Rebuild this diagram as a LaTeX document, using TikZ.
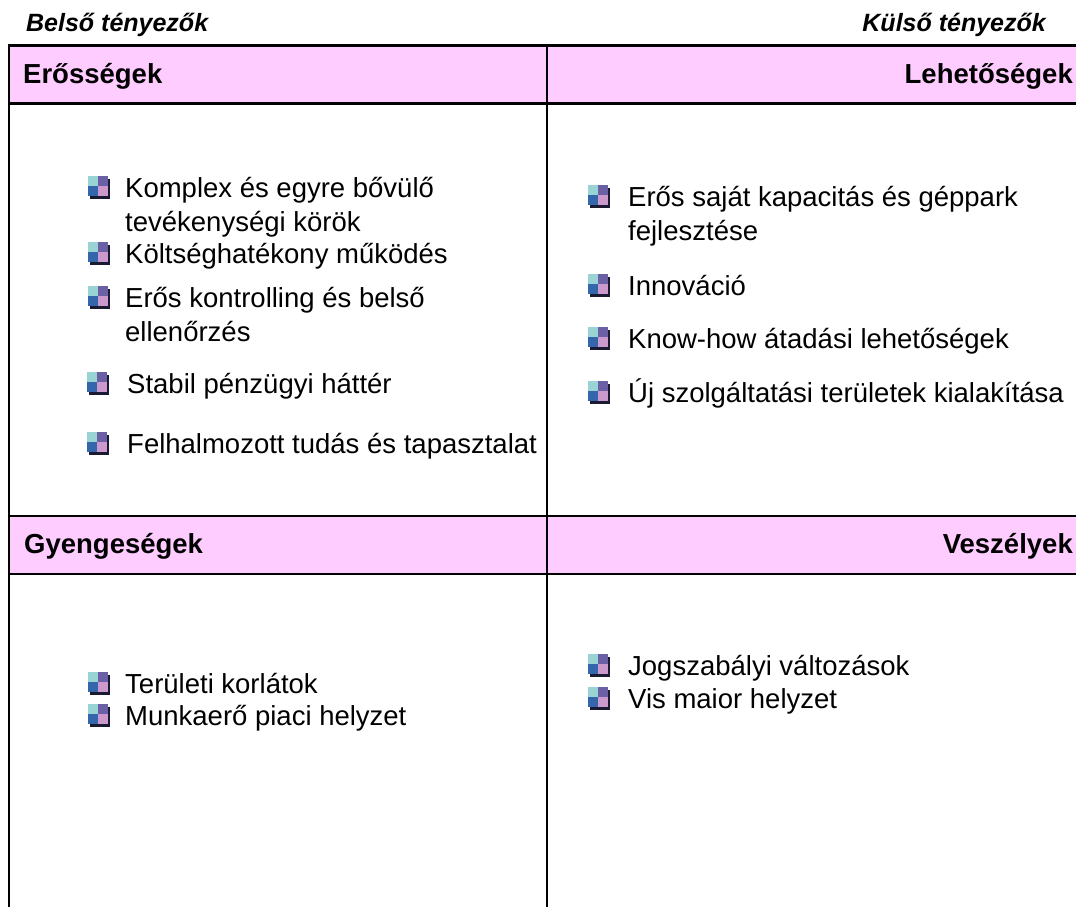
\documentclass[tikz,border=0pt]{standalone}
\usepackage{fontspec}
\setmainfont{Liberation Sans}
\definecolor{hdrpink}{HTML}{FFCCFF}
\definecolor{bteal}{HTML}{99D3D3}
\definecolor{bpurple}{HTML}{6B5FA6}
\definecolor{bblue}{HTML}{3366AA}
\definecolor{blilac}{HTML}{CC99CC}
\definecolor{bshadow}{HTML}{1A1A33}
\newcommand{\sqbul}[2]{%
  \fill[bshadow] (#1+1.5,#2-18.5) rectangle (#1+21.5,#2+1.5);
  \fill[bteal] (#1,#2-21) rectangle (#1+10,#2-11);
  \fill[bpurple] (#1+10,#2-21) rectangle (#1+20,#2-11);
  \fill[bblue] (#1,#2-11) rectangle (#1+10,#2-1);
  \fill[blilac] (#1+10,#2-11) rectangle (#1+20,#2-1);
}
\begin{document}
\begin{tikzpicture}[x=1pt,y=-1pt,
  frame/.style={line width=2.5pt,black},
  toplabel/.style={inner sep=0pt,font=\fontsize{25}{29}\selectfont\bfseries\itshape},
  header/.style={inner sep=0pt,font=\fontsize{27.5}{32}\selectfont\bfseries},
  item/.style={inner sep=0pt,anchor=base west,font=\fontsize{27.5}{34}\selectfont}]
\useasboundingbox (0,0) rectangle (1076,907);
% header fills
\fill[hdrpink] (9,45.5) rectangle (1076,103.7);
\fill[hdrpink] (9,516) rectangle (1076,574);
% frame lines
\coordinate (tl) at (9,45.5);
\coordinate (tr) at (1076,45.5);
\coordinate (h1l) at (9,103.7);
\coordinate (h1r) at (1076,103.7);
\coordinate (h2l) at (9,516);
\coordinate (h2r) at (1076,516);
\coordinate (h3l) at (9,574);
\coordinate (h3r) at (1076,574);
\coordinate (bl) at (9,907);
\coordinate (mt) at (547,45.5);
\coordinate (mb) at (547,907);
\draw[frame] (7.75,45.5) -- (tr);
\draw[frame] (h1l) -- (h1r);
\draw[frame] (h2l) -- (h2r);
\draw[frame] (h3l) -- (h3r);
\draw[frame] (tl) -- (bl);
\draw[frame] (mt) -- (mb);
% top labels
\node[toplabel,anchor=base west] (belso) at (26,32) {Belső tényezők};
\node[toplabel,anchor=base east] (kulso) at (1046,32) {Külső tényezők};
% headers
\node[header,anchor=base west] (eross) at (23,83) {Erősségek};
\node[header,anchor=base east] (lehet) at (1073,83) {Lehetőségek};
\node[header,anchor=base west] (gyenge) at (24,553) {Gyengeségek};
\node[header,anchor=base east] (vesz) at (1073,553) {Veszélyek};
% strengths
\sqbul{88}{197}
\node[item] (s1a) at (125,197) {Komplex és egyre bővülő};
\node[item] (s1b) at (125,231) {tevékenységi körök};
\sqbul{88}{263}
\node[item] (s2) at (125,263) {Költséghatékony működés};
\sqbul{88}{307}
\node[item] (s3a) at (125,307) {Erős kontrolling és belső};
\node[item] (s3b) at (125,341) {ellenőrzés};
\sqbul{87}{393}
\node[item] (s4) at (127,393) {Stabil pénzügyi háttér};
\sqbul{87}{453}
\node[item] (s5) at (127,453) {Felhalmozott tudás és tapasztalat};
% opportunities
\sqbul{588}{206}
\node[item] (o1a) at (628,206) {Erős saját kapacitás és géppark};
\node[item] (o1b) at (628,240) {fejlesztése};
\sqbul{588}{295}
\node[item] (o2) at (628,295) {Innováció};
\sqbul{588}{348}
\node[item] (o3) at (628,348) {Know-how átadási lehetőségek};
\sqbul{588}{402}
\node[item] (o4) at (628,402) {Új szolgáltatási területek kialakítása};
% weaknesses
\sqbul{88}{693}
\node[item] (w1) at (125,693) {Területi korlátok};
\sqbul{88}{725}
\node[item] (w2) at (125,725) {Munkaerő piaci helyzet};
% threats
\sqbul{588}{675}
\node[item] (t1) at (628,675) {Jogszabályi változások};
\sqbul{588}{708}
\node[item] (t2) at (628,708) {Vis maior helyzet};
\end{tikzpicture}
\end{document}
